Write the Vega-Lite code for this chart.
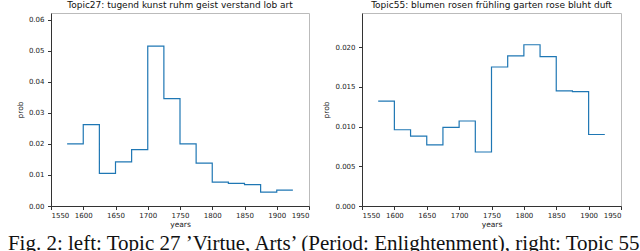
{
  "$schema": "https://vega.github.io/schema/vega-lite/v6.json",
  "padding": {"left": 7, "top": 0, "right": 0, "bottom": 0},
  "background": "white",
  "spacing": 12,
  "datasets": {
    "t27": [
      {"year": 1575, "prob": 0.0200},
      {"year": 1600, "prob": 0.0262},
      {"year": 1625, "prob": 0.0105},
      {"year": 1650, "prob": 0.0142},
      {"year": 1675, "prob": 0.0182},
      {"year": 1700, "prob": 0.0515},
      {"year": 1725, "prob": 0.0346},
      {"year": 1750, "prob": 0.0200},
      {"year": 1775, "prob": 0.0138},
      {"year": 1800, "prob": 0.0077},
      {"year": 1825, "prob": 0.0073},
      {"year": 1850, "prob": 0.0069},
      {"year": 1875, "prob": 0.0045},
      {"year": 1900, "prob": 0.0051},
      {"year": 1925, "prob": 0.0051}
    ],
    "t55": [
      {"year": 1575, "prob": 0.0132},
      {"year": 1600, "prob": 0.0096},
      {"year": 1625, "prob": 0.0088},
      {"year": 1650, "prob": 0.0077},
      {"year": 1675, "prob": 0.0099},
      {"year": 1700, "prob": 0.0107},
      {"year": 1725, "prob": 0.0068},
      {"year": 1750, "prob": 0.0175},
      {"year": 1775, "prob": 0.0189},
      {"year": 1800, "prob": 0.0203},
      {"year": 1825, "prob": 0.0188},
      {"year": 1850, "prob": 0.0145},
      {"year": 1875, "prob": 0.0144},
      {"year": 1900, "prob": 0.0090},
      {"year": 1925, "prob": 0.0090}
    ]
  },
  "title": {
    "text": "Fig. 2: left: Topic 27 ’Virtue, Arts’ (Period: Enlightenment), right: Topic 55",
    "orient": "bottom",
    "anchor": "start",
    "frame": "bounds",
    "font": "Liberation Serif",
    "fontSize": 21,
    "fontWeight": "normal",
    "color": "#111",
    "offset": 4,
    "dx": -8
  },
  "config": {
    "view": {"stroke": "#bbbbbb", "strokeWidth": 1},
    "axis": {
      "grid": false,
      "domainColor": "#333",
      "tickColor": "#333",
      "tickSize": 3.5,
      "labelFont": "DejaVu Sans",
      "labelFontSize": 7,
      "labelColor": "#222",
      "titleFont": "DejaVu Sans",
      "titleFontSize": 7.5,
      "titleFontWeight": "normal",
      "titleColor": "#222",
      "labelPadding": 3.5
    },
    "title": {"font": "DejaVu Sans", "fontSize": 9, "fontWeight": "normal", "color": "#111", "offset": 3}
  },
  "hconcat": [
    {
      "width": 258,
      "height": 193,
      "title": "Topic27: tugend kunst ruhm geist verstand lob art",
      "data": {"name": "t27"},
      "mark": {"type": "line", "interpolate": "step-after", "color": "#1f77b4", "strokeWidth": 1.2},
      "encoding": {
        "x": {"field": "year", "type": "quantitative", "scale": {"domain": [1550, 1950], "nice": false, "zero": false}, "axis": {"values": [1550, 1600, 1650, 1700, 1750, 1800, 1850, 1900, 1950], "format": "d", "title": "years", "titlePadding": 2, "labelPadding": 2}},
        "y": {"field": "prob", "type": "quantitative", "scale": {"domain": [0, 0.0622], "nice": false}, "axis": {"values": [0, 0.01, 0.02, 0.03, 0.04, 0.05, 0.06], "format": ".2f", "title": "prob", "titlePadding": 4}}
      }
    },
    {
      "width": 259,
      "height": 193,
      "title": "Topic55: blumen rosen frühling garten rose bluht duft",
      "data": {"name": "t55"},
      "mark": {"type": "line", "interpolate": "step-after", "color": "#1f77b4", "strokeWidth": 1.2},
      "encoding": {
        "x": {"field": "year", "type": "quantitative", "scale": {"domain": [1550, 1950], "nice": false, "zero": false}, "axis": {"values": [1550, 1600, 1650, 1700, 1750, 1800, 1850, 1900, 1950], "format": "d", "title": "years", "titlePadding": 2, "labelPadding": 2}},
        "y": {"field": "prob", "type": "quantitative", "scale": {"domain": [0, 0.0243], "nice": false}, "axis": {"values": [0, 0.005, 0.01, 0.015, 0.02], "format": ".3f", "title": "prob", "titlePadding": 4}}
      }
    }
  ]
}
